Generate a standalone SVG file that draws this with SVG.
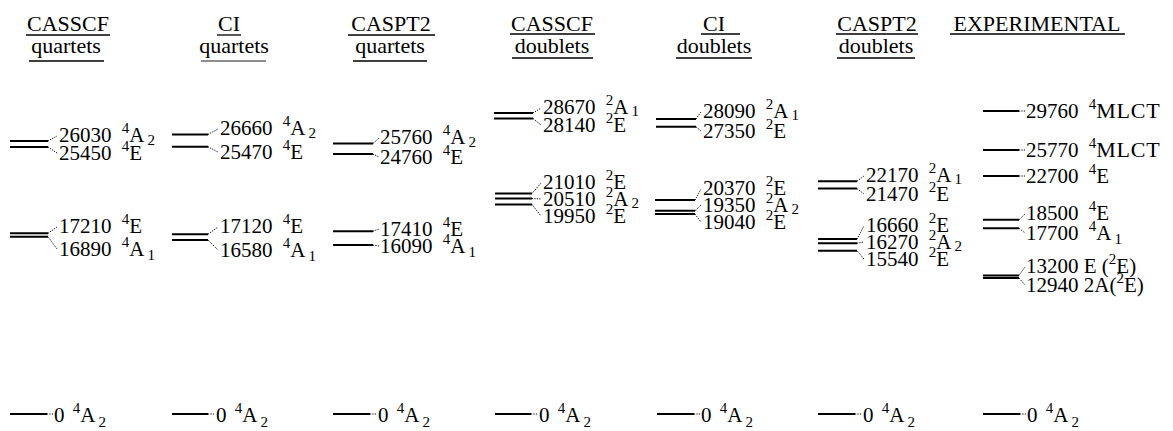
<svg xmlns="http://www.w3.org/2000/svg" width="1173" height="431" viewBox="0 0 1173 431">
<style>
text{font-family:"Liberation Serif","Times New Roman",serif;fill:#000}
.h{font-size:22px;text-anchor:middle}
.l{font-size:21px}
.s{font-size:15px}
.m{font-size:22px;letter-spacing:0.8px}
.lv{stroke:#000;stroke-width:2;fill:none}
.ul{stroke:#000;stroke-width:1.3;fill:none}
.ld{stroke:#000;stroke-width:1;stroke-dasharray:1.2 1.2;fill:none}
</style>
<rect width="1173" height="431" fill="#fff"/>
<g id="headers">
<g id="h1"><text class="h" x="68" y="31">CASSCF</text><line class="ul" x1="26" y1="35" x2="110" y2="35"/><text class="h" x="66" y="53">quartets</text><line class="ul" x1="29" y1="61" x2="104" y2="61"/></g>
<g id="h2"><text class="h" x="229" y="31">CI</text><line class="ul" x1="217" y1="35" x2="241" y2="35"/><text class="h" x="234" y="53">quartets</text><line class="ul" x1="201" y1="61" x2="266" y2="61" stroke-opacity="0.6"/></g>
<g id="h3"><text class="h" x="391" y="31">CASPT2</text><line class="ul" x1="348" y1="35" x2="435" y2="35"/><text class="h" x="390" y="53">quartets</text><line class="ul" x1="353" y1="61" x2="427" y2="61"/></g>
<g id="h4"><text class="h" x="552" y="31">CASSCF</text><line class="ul" x1="510" y1="34" x2="595" y2="34"/><text class="h" x="552" y="53">doublets</text><line class="ul" x1="512" y1="58" x2="593" y2="58"/></g>
<g id="h5"><text class="h" x="714" y="31">CI</text><line class="ul" x1="701" y1="34" x2="740" y2="34"/><text class="h" x="714" y="53">doublets</text><line class="ul" x1="676" y1="58" x2="752" y2="58"/></g>
<g id="h6"><text class="h" x="877" y="31">CASPT2</text><line class="ul" x1="836" y1="34" x2="918" y2="34"/><text class="h" x="876" y="53">doublets</text><line class="ul" x1="837" y1="58" x2="915" y2="58"/></g>
<g id="h7"><text class="h" x="1037" y="31">EXPERIMENTAL</text><line class="ul" x1="950" y1="34" x2="1125" y2="34"/></g>
</g>
<g id="connectors">
<path class="ld" d="M48 141L57 136M48 147L57 153M48 233.3L57 227M48 236.7L57 249"/>
<path class="ld" d="M208 134.4L218 129M208 146.8L218 152M208 234.2L218 227M208 240L218 250"/>
<path class="ld" d="M373 143.5L379 138M373 154L379 157M373 231.2L379 229M373 245.1L379 246"/>
<path class="ld" d="M533 113L541 108M533 118.5L541 125M532 193.4L541 183M532 198.6L541 199M532 204.5L541 216"/>
<path class="ld" d="M696 119L701 112M696 126.8L701 131M695 200.1L701 189M695 210.8L701 205M695 214.1L701 222"/>
<path class="ld" d="M857 181.2L864 176M857 188.6L864 194M857 239.1L864 226M857 243.2L864 242M857 250.8L864 259"/>
<path class="ld" d="M1019 111L1025 111M1019 150L1025 150M1019 176L1025 176M1019 219.8L1025 214M1019 228.2L1025 233M1019 275.4L1025 267M1019 278.1L1025 285"/>
<path class="ld" d="M47 414L53 414M208 414L215 414M370 414L377 414M531 414L538 414M694 414L700 414M855 414L862 414M1020 414L1026 414"/>
</g>
<g id="c1">
<g id="c1-26030"><line class="lv" x1="10" y1="141" x2="48" y2="141"/><text class="l" x="59" y="142">26030 <tspan class="s" dx="5" dy="-9">4</tspan><tspan dy="9">A</tspan><tspan class="s" dx="3" dy="3">2</tspan></text></g>
<g id="c1-25450"><line class="lv" x1="10" y1="147" x2="48" y2="147"/><text class="l" x="59" y="160">25450 <tspan class="s" dx="5" dy="-9">4</tspan><tspan dy="9">E</tspan></text></g>
<g id="c1-17210"><line class="lv" x1="10" y1="233.3" x2="48" y2="233.3"/><text class="l" x="59" y="233">17210 <tspan class="s" dx="5" dy="-9">4</tspan><tspan dy="9">E</tspan></text></g>
<g id="c1-16890"><line class="lv" x1="10" y1="236.7" x2="48" y2="236.7"/><text class="l" x="59" y="256">16890 <tspan class="s" dx="5" dy="-9">4</tspan><tspan dy="9">A</tspan><tspan class="s" dx="3" dy="4">1</tspan></text></g>
<g id="c1-0"><line class="lv" x1="10" y1="414" x2="47" y2="414"/><text class="l" x="54" y="421.5">0 <tspan class="s" dx="3" dy="-9">4</tspan><tspan dy="9">A</tspan><tspan class="s" dx="3" dy="5">2</tspan></text></g>
</g>
<g id="c2">
<g id="c2-26660"><line class="lv" x1="172" y1="134.4" x2="208" y2="134.4"/><text class="l" x="220" y="135">26660 <tspan class="s" dx="5" dy="-9">4</tspan><tspan dy="9">A</tspan><tspan class="s" dx="3" dy="3">2</tspan></text></g>
<g id="c2-25470"><line class="lv" x1="172" y1="146.8" x2="208" y2="146.8"/><text class="l" x="220" y="159">25470 <tspan class="s" dx="5" dy="-9">4</tspan><tspan dy="9">E</tspan></text></g>
<g id="c2-17120"><line class="lv" x1="172" y1="234.2" x2="208" y2="234.2"/><text class="l" x="220" y="233">17120 <tspan class="s" dx="5" dy="-9">4</tspan><tspan dy="9">E</tspan></text></g>
<g id="c2-16580"><line class="lv" x1="172" y1="240" x2="208" y2="240"/><text class="l" x="220" y="257">16580 <tspan class="s" dx="5" dy="-9">4</tspan><tspan dy="9">A</tspan><tspan class="s" dx="3" dy="4">1</tspan></text></g>
<g id="c2-0"><line class="lv" x1="172" y1="414" x2="208" y2="414"/><text class="l" x="216" y="421.5">0 <tspan class="s" dx="3" dy="-9">4</tspan><tspan dy="9">A</tspan><tspan class="s" dx="3" dy="5">2</tspan></text></g>
</g>
<g id="c3">
<g id="c3-25760"><line class="lv" x1="333" y1="143.5" x2="373" y2="143.5"/><text class="l" x="380" y="144">25760 <tspan class="s" dx="5" dy="-9">4</tspan><tspan dy="9">A</tspan><tspan class="s" dx="3" dy="3">2</tspan></text></g>
<g id="c3-24760"><line class="lv" x1="333" y1="154" x2="373" y2="154"/><text class="l" x="380" y="164">24760 <tspan class="s" dx="5" dy="-9">4</tspan><tspan dy="9">E</tspan></text></g>
<g id="c3-17410"><line class="lv" x1="333" y1="231.2" x2="373" y2="231.2"/><text class="l" x="380" y="236">17410 <tspan class="s" dx="5" dy="-9">4</tspan><tspan dy="9">E</tspan></text></g>
<g id="c3-16090"><line class="lv" x1="333" y1="245.1" x2="373" y2="245.1"/><text class="l" x="380" y="253">16090 <tspan class="s" dx="5" dy="-9">4</tspan><tspan dy="9">A</tspan><tspan class="s" dx="3" dy="4">1</tspan></text></g>
<g id="c3-0"><line class="lv" x1="333" y1="414" x2="370" y2="414"/><text class="l" x="378" y="421.5">0 <tspan class="s" dx="3" dy="-9">4</tspan><tspan dy="9">A</tspan><tspan class="s" dx="3" dy="5">2</tspan></text></g>
</g>
<g id="c4">
<g id="c4-28670"><line class="lv" x1="494" y1="113" x2="533" y2="113"/><text class="l" x="543" y="114">28670 <tspan class="s" dx="5" dy="-9">2</tspan><tspan dy="9">A</tspan><tspan class="s" dx="3" dy="2">1</tspan></text></g>
<g id="c4-28140"><line class="lv" x1="494" y1="118.5" x2="533" y2="118.5"/><text class="l" x="543" y="132">28140 <tspan class="s" dx="5" dy="-9">2</tspan><tspan dy="9">E</tspan></text></g>
<g id="c4-21010"><line class="lv" x1="495" y1="193.4" x2="532" y2="193.4"/><text class="l" x="543" y="189">21010 <tspan class="s" dx="5" dy="-9">2</tspan><tspan dy="9">E</tspan></text></g>
<g id="c4-20510"><line class="lv" x1="495" y1="198.6" x2="532" y2="198.6"/><text class="l" x="543" y="206">20510 <tspan class="s" dx="5" dy="-9">2</tspan><tspan dy="9">A</tspan><tspan class="s" dx="3" dy="2">2</tspan></text></g>
<g id="c4-19950"><line class="lv" x1="495" y1="204.5" x2="532" y2="204.5"/><text class="l" x="543" y="223">19950 <tspan class="s" dx="5" dy="-9">2</tspan><tspan dy="9">E</tspan></text></g>
<g id="c4-0"><line class="lv" x1="495" y1="414" x2="531" y2="414"/><text class="l" x="539" y="421.5">0 <tspan class="s" dx="3" dy="-9">4</tspan><tspan dy="9">A</tspan><tspan class="s" dx="3" dy="5">2</tspan></text></g>
</g>
<g id="c5">
<g id="c5-28090"><line class="lv" x1="656" y1="119" x2="696" y2="119"/><text class="l" x="703" y="118">28090 <tspan class="s" dx="5" dy="-9">2</tspan><tspan dy="9">A</tspan><tspan class="s" dx="3" dy="2">1</tspan></text></g>
<g id="c5-27350"><line class="lv" x1="656" y1="126.8" x2="696" y2="126.8"/><text class="l" x="703" y="138">27350 <tspan class="s" dx="5" dy="-9">2</tspan><tspan dy="9">E</tspan></text></g>
<g id="c5-20370"><line class="lv" x1="655" y1="200.1" x2="695" y2="200.1"/><text class="l" x="703" y="195">20370 <tspan class="s" dx="5" dy="-9">2</tspan><tspan dy="9">E</tspan></text></g>
<g id="c5-19350"><line class="lv" x1="655" y1="210.8" x2="695" y2="210.8"/><text class="l" x="703" y="212">19350 <tspan class="s" dx="5" dy="-9">2</tspan><tspan dy="9">A</tspan><tspan class="s" dx="3" dy="2">2</tspan></text></g>
<g id="c5-19040"><line class="lv" x1="655" y1="214.1" x2="695" y2="214.1"/><text class="l" x="703" y="229">19040 <tspan class="s" dx="5" dy="-9">2</tspan><tspan dy="9">E</tspan></text></g>
<g id="c5-0"><line class="lv" x1="657" y1="414" x2="694" y2="414"/><text class="l" x="701" y="421.5">0 <tspan class="s" dx="3" dy="-9">4</tspan><tspan dy="9">A</tspan><tspan class="s" dx="3" dy="5">2</tspan></text></g>
</g>
<g id="c6">
<g id="c6-22170"><line class="lv" x1="818" y1="181.2" x2="857" y2="181.2"/><text class="l" x="866" y="182">22170 <tspan class="s" dx="5" dy="-9">2</tspan><tspan dy="9">A</tspan><tspan class="s" dx="3" dy="2">1</tspan></text></g>
<g id="c6-21470"><line class="lv" x1="818" y1="188.6" x2="857" y2="188.6"/><text class="l" x="866" y="201">21470 <tspan class="s" dx="5" dy="-9">2</tspan><tspan dy="9">E</tspan></text></g>
<g id="c6-16660"><line class="lv" x1="818" y1="239.1" x2="857" y2="239.1"/><text class="l" x="866" y="232">16660 <tspan class="s" dx="5" dy="-9">2</tspan><tspan dy="9">E</tspan></text></g>
<g id="c6-16270"><line class="lv" x1="818" y1="243.2" x2="857" y2="243.2"/><text class="l" x="866" y="249">16270 <tspan class="s" dx="5" dy="-9">2</tspan><tspan dy="9">A</tspan><tspan class="s" dx="3" dy="2">2</tspan></text></g>
<g id="c6-15540"><line class="lv" x1="818" y1="250.8" x2="857" y2="250.8"/><text class="l" x="866" y="266">15540 <tspan class="s" dx="5" dy="-9">2</tspan><tspan dy="9">E</tspan></text></g>
<g id="c6-0"><line class="lv" x1="818" y1="414" x2="855" y2="414"/><text class="l" x="863" y="421.5">0 <tspan class="s" dx="3" dy="-9">4</tspan><tspan dy="9">A</tspan><tspan class="s" dx="3" dy="5">2</tspan></text></g>
</g>
<g id="c7">
<g id="c7-29760"><line class="lv" x1="983" y1="111" x2="1019" y2="111"/><text class="l" x="1026" y="118">29760 <tspan class="s" dx="5" dy="-9">4</tspan><tspan class="m" dy="9">MLCT</tspan></text></g>
<g id="c7-25770"><line class="lv" x1="983" y1="150" x2="1019" y2="150"/><text class="l" x="1026" y="157">25770 <tspan class="s" dx="5" dy="-9">4</tspan><tspan class="m" dy="9">MLCT</tspan></text></g>
<g id="c7-22700"><line class="lv" x1="983" y1="176" x2="1019" y2="176"/><text class="l" x="1026" y="183">22700 <tspan class="s" dx="5" dy="-9">4</tspan><tspan dy="9">E</tspan></text></g>
<g id="c7-18500"><line class="lv" x1="983" y1="219.8" x2="1019" y2="219.8"/><text class="l" x="1026" y="220">18500 <tspan class="s" dx="5" dy="-9">4</tspan><tspan dy="9">E</tspan></text></g>
<g id="c7-17700"><line class="lv" x1="983" y1="228.2" x2="1019" y2="228.2"/><text class="l" x="1026" y="240">17700 <tspan class="s" dx="5" dy="-9">4</tspan><tspan dy="9">A</tspan><tspan class="s" dx="3" dy="4">1</tspan></text></g>
<g id="c7-13200"><line class="lv" x1="983" y1="275.4" x2="1019" y2="275.4"/><text class="l" x="1026" y="273">13200 E (<tspan class="s" dy="-9">2</tspan><tspan dy="9">E)</tspan></text></g>
<g id="c7-12940"><line class="lv" x1="983" y1="278.1" x2="1019" y2="278.1"/><text class="l" x="1026" y="292">12940 2A(<tspan class="s" dy="-9">2</tspan><tspan dy="9">E)</tspan></text></g>
<g id="c7-0"><line class="lv" x1="983" y1="414" x2="1020" y2="414"/><text class="l" x="1027" y="421.5">0 <tspan class="s" dx="3" dy="-9">4</tspan><tspan dy="9">A</tspan><tspan class="s" dx="3" dy="5">2</tspan></text></g>
</g>
</svg>
